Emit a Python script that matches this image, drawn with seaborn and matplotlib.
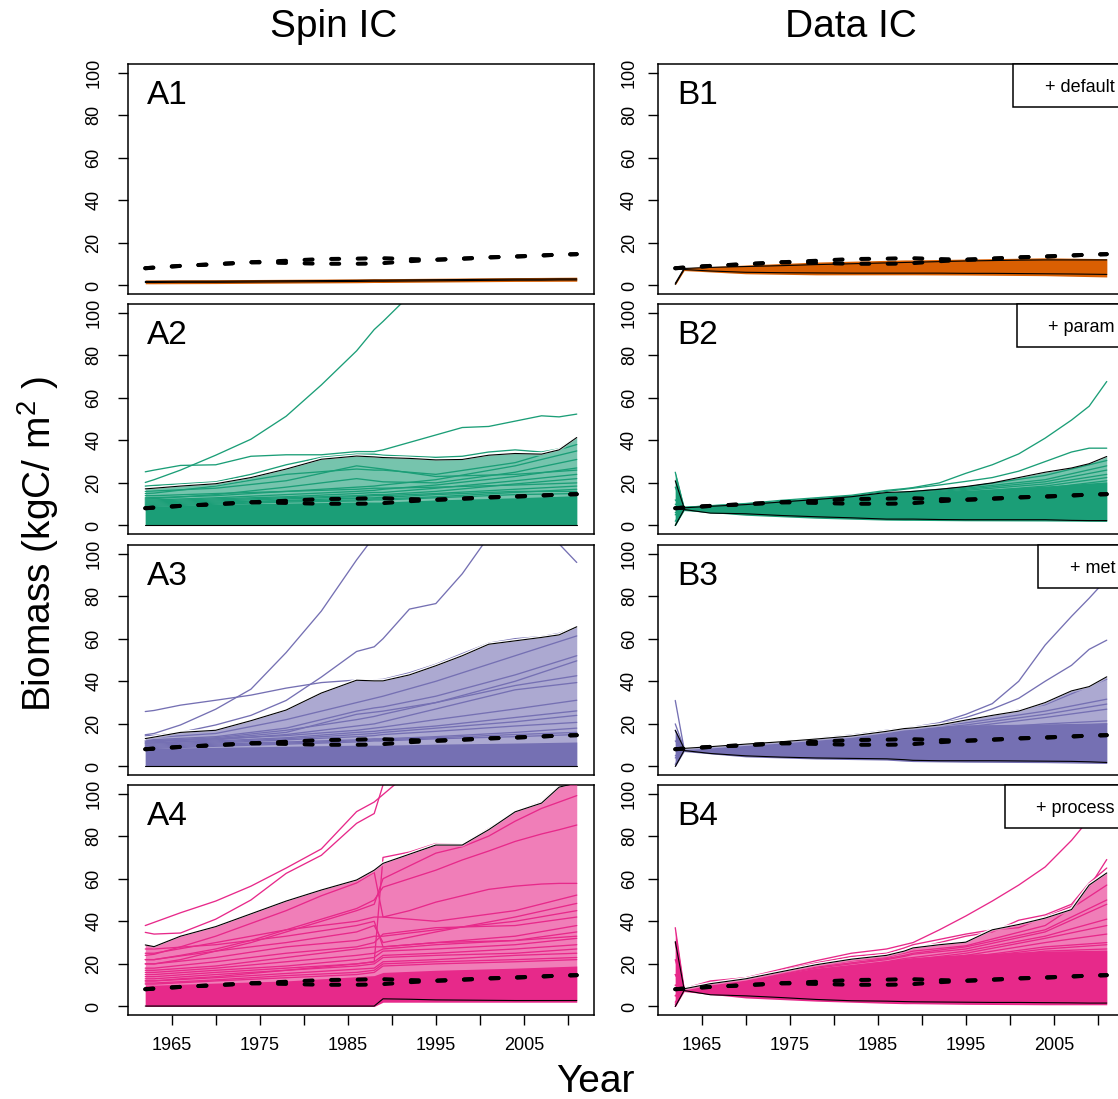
import matplotlib
matplotlib.use("Agg")
import matplotlib.pyplot as plt
import pandas as pd
import seaborn as sns
from matplotlib.patches import Rectangle

sns.set_style("ticks")
plt.rcParams['font.family'] = ['Liberation Sans', 'DejaVu Sans']
plt.rcParams['mathtext.default'] = 'regular'
plt.rcParams['text.color'] = 'black'
plt.rcParams['xtick.color'] = 'black'
plt.rcParams['ytick.color'] = 'black'
plt.rcParams['axes.labelcolor'] = 'black'

# year grids (main lines / dense core + inner members)
YEARS = [1962, 1963, 1966, 1970, 1974, 1978, 1982, 1986, 1988, 1989, 1992, 1995, 1998, 2001, 2004, 2007, 2009, 2011]
YEARS_C = [1962, 1963, 1970, 1978, 1986, 1988, 1989, 1995, 2004, 2011]

# observed biomass (dashed), upper and lower
OBS_HI = [8.1, 8.4, 9.2, 10.0, 10.9, 11.6, 12.4, 12.6, 12.8, 12.8, 12.4, 12.1, 12.6, 13.2, 13.6, 14.1, 14.5, 14.7]
OBS_LO = [8.1, 8.4, 9.2, 10.0, 10.9, 10.6, 10.2, 10.2, 10.3, 10.5, 11.4, 12.1, 12.6, 13.2, 13.6, 14.1, 14.5, 14.7]

# ---- A1 spin IC, default
A1_CI_HI = [1.9, 1.9, 2.0, 2.0, 2.1, 2.2, 2.3, 2.4, 2.5, 2.5, 2.6, 2.7, 2.8, 2.9, 3.0, 3.0, 3.1, 3.1]
A1_CI_LO = [1.4, 1.4, 1.5, 1.5, 1.6, 1.7, 1.8, 1.9, 2.0, 2.0, 2.1, 2.2, 2.3, 2.4, 2.5, 2.5, 2.6, 2.6]
A1_CORE_LO = [0.8, 0.8, 0.9, 1.1, 1.3, 1.4, 1.4, 1.6, 1.9, 2.0]
A1_CORE_HI = [2.6, 2.6, 2.7, 2.9, 3.1, 3.2, 3.2, 3.4, 3.7, 3.9]
A1_OUT = []
A1_INNER = []

# ---- A2 spin IC, + param
A2_CI_HI = [17.2, 17.5, 18.5, 19.6, 22.5, 26.5, 31.1, 32.6, 32.2, 31.9, 31.5, 30.8, 31.0, 33.0, 33.8, 33.5, 35.5, 41.3]
A2_CI_LO = [0.2, 0.2, 0.2, 0.2, 0.2, 0.2, 0.2, 0.2, 0.2, 0.2, 0.2, 0.2, 0.2, 0.2, 0.2, 0.2, 0.2, 0.2]
A2_CORE_LO = [0, 0, 0, 0, 0, 0, 0, 0, 0, 0]
A2_CORE_HI = [9.0, 9.0, 10.0, 10.5, 11.0, 11.0, 11.0, 12.0, 13.0, 14.0]
A2_OUT = [
    [20.2, 21.5, 26.0, 33.0, 40.5, 51.3, 66.0, 82.0, 92.0, 95.8, 108.0, None, None, None, None, None, None, None],
    [25.2, 26.0, 28.2, 28.5, 32.5, 33.2, 33.2, 34.7, 34.7, 35.5, 39.0, 42.5, 46.0, 46.5, 49.0, 51.5, 51.0, 52.3],
    [18.5, 18.8, 19.5, 20.5, 24.0, 28.5, 32.0, 33.5, 33.5, 33.0, 32.5, 32.0, 32.5, 34.5, 35.5, 34.5, 36.0, 41.5],
]
A2_INNER = [
    [15.0, 15.2, 18.5, 24.0, 26.5, 26.0, 26.0, 24.0, 29.5, 38.0],
    [13.0, 13.1, 14.0, 16.0, 18.0, 18.5, 19.0, 21.5, 28.0, 35.0],
    [12.5, 12.6, 14.5, 18.0, 22.0, 21.0, 20.5, 20.0, 25.0, 31.0],
    [12.0, 12.0, 13.0, 14.5, 16.0, 16.5, 17.0, 19.0, 23.0, 27.0],
    [11.5, 11.5, 12.5, 13.5, 15.0, 15.5, 15.5, 17.5, 21.0, 24.0],
    [14.0, 14.0, 15.0, 16.0, 17.0, 17.5, 17.5, 18.0, 19.0, 20.0],
    [11.0, 11.0, 12.0, 13.0, 14.0, 14.5, 14.5, 16.0, 19.5, 22.0],
    [10.5, 10.5, 11.5, 12.5, 13.5, 14.0, 14.0, 15.0, 17.0, 18.5],
    [16.0, 16.2, 17.5, 21.0, 28.0, 27.0, 26.5, 23.0, 24.0, 26.0],
    [9.5, 9.5, 10.5, 11.5, 12.0, 12.5, 12.5, 13.5, 15.5, 17.0],
    [10.0, 10.0, 11.0, 11.8, 12.8, 13.0, 13.2, 14.5, 16.0, 16.0],
    [9.0, 9.0, 10.0, 11.0, 11.5, 12.0, 12.0, 13.0, 14.5, 15.0],
]

# ---- A3 spin IC, + met
A3_CI_HI = [13.1, 13.8, 16.0, 17.0, 21.5, 26.5, 34.5, 40.5, 40.2, 40.2, 43.0, 47.3, 52.0, 57.4, 59.0, 60.6, 61.8, 65.6]
A3_CI_LO = [0.2, 0.2, 0.2, 0.2, 0.2, 0.2, 0.2, 0.2, 0.2, 0.2, 0.2, 0.2, 0.2, 0.2, 0.2, 0.2, 0.2, 0.2]
A3_CORE_LO = [0, 0, 0, 0, 0, 0, 0, 0, 0, 0]
A3_CORE_HI = [8.5, 8.5, 9.0, 9.5, 10.0, 10.0, 10.0, 10.5, 11.0, 11.5]
A3_OUT = [
    [14.9, 15.5, 19.5, 26.9, 36.3, 53.5, 73.0, 97.0, 108.0, None, None, None, None, None, None, None, None, None],
    [14.4, 14.6, 16.0, 19.5, 24.0, 31.0, 42.0, 54.0, 56.2, 60.0, 73.9, 76.5, 90.5, 108.0, None, None, None, None],
    [None, None, None, None, None, None, None, None, None, None, None, None, None, None, None, None, 104.5, 95.8],
    [25.8, 26.3, 28.8, 31.1, 33.5, 36.8, 39.4, 40.6, 40.7, 40.9, 44.0, 48.0, 53.0, 57.9, 60.0, 61.0, 62.5, 65.6],
]
A3_INNER = [
    [13.5, 13.6, 15.5, 22.0, 30.0, 32.0, 33.0, 40.0, 52.0, 61.3],
    [12.5, 12.6, 14.0, 18.0, 26.0, 27.5, 28.0, 33.0, 43.0, 52.0],
    [12.0, 12.1, 13.5, 17.0, 22.0, 23.5, 24.5, 30.0, 40.0, 49.6],
    [11.5, 11.6, 13.0, 16.0, 24.5, 25.5, 26.0, 30.0, 38.0, 42.6],
    [11.0, 11.1, 12.5, 15.0, 19.0, 20.0, 21.0, 27.0, 36.0, 39.4],
    [12.0, 12.1, 13.0, 14.5, 17.0, 18.0, 18.5, 22.0, 27.0, 31.1],
    [11.0, 11.0, 12.0, 13.5, 16.0, 16.5, 17.0, 19.0, 23.0, 26.1],
    [10.5, 10.5, 11.5, 13.0, 15.0, 15.5, 16.0, 18.0, 21.0, 24.0],
    [10.0, 10.0, 11.0, 12.5, 14.0, 14.5, 15.0, 16.5, 19.0, 20.7],
    [9.5, 9.5, 10.5, 11.5, 12.5, 13.0, 13.0, 14.0, 16.0, 18.0],
    [9.0, 9.0, 10.0, 11.0, 12.0, 12.5, 12.5, 13.5, 15.0, 16.0],
    [8.5, 8.5, 9.5, 10.5, 11.5, 12.0, 12.0, 13.0, 14.0, 15.0],
]

# ---- A4 spin IC, + process
A4_CI_HI = [28.9, 28.1, 33.0, 37.5, 43.5, 49.5, 54.7, 59.4, 64.0, 67.2, 71.5, 75.8, 75.8, 83.0, 91.4, 95.5, 103.0, 105.0]
A4_CI_LO = [0.2, 0.2, 0.2, 0.2, 0.2, 0.2, 0.2, 0.2, 0.2, 3.6, 3.4, 3.1, 3.0, 2.9, 2.8, 2.8, 2.8, 2.8]
A4_CORE_LO = [0, 0, 0, 0, 0, 0, 2.0, 2.0, 2.0, 2.0]
A4_CORE_HI = [10.0, 10.0, 11.0, 12.0, 14.0, 14.5, 16.0, 17.0, 18.0, 19.0]
A4_OUT = [
    [38.0, 39.5, 44.0, 49.5, 56.5, 65.0, 74.0, 91.5, 96.0, 99.5, 110.0, None, None, None, None, None, None, None],
    [34.8, 34.0, 34.5, 41.0, 50.0, 62.5, 71.0, 86.0, 90.6, 104.0, None, None, None, None, None, None, None, None],
    [12.0, 12.0, 13.0, 14.0, 15.5, 17.0, 18.5, 20.0, 21.0, 70.0, 72.5, 76.5, 76.0, 83.5, 91.5, 96.0, 103.5, 106.0],
    [24.0, 24.5, 28.0, 33.0, 39.0, 45.0, 52.0, 58.0, 63.0, 42.0, 45.0, 49.0, 52.0, 55.0, 56.5, 57.5, 57.8, 57.8],
    [22.0, 22.0, 24.0, 27.0, 31.0, 36.0, 41.0, 46.0, 50.0, 56.0, 60.0, 64.0, 68.8, 73.0, 77.5, 81.0, 83.0, 85.2],
    [20.0, 20.0, 22.0, 26.0, 30.0, 35.0, 40.0, 45.0, 48.0, 60.0, 66.0, 72.0, 75.0, 80.0, 87.0, 93.0, 96.0, 99.0],
]
A4_INNER = [
    [25.0, 25.0, 30.0, 36.0, 40.0, 42.0, 42.0, 40.0, 45.0, 52.3],
    [22.0, 22.0, 26.0, 30.0, 35.0, 38.0, 30.0, 35.0, 42.0, 48.4],
    [20.0, 20.0, 23.0, 28.0, 31.0, 33.0, 33.0, 36.0, 40.0, 45.0],
    [18.0, 18.0, 21.0, 25.0, 28.0, 30.0, 34.0, 37.0, 38.0, 42.0],
    [17.0, 17.0, 19.0, 23.0, 27.0, 28.0, 28.0, 30.0, 33.0, 38.0],
    [16.0, 16.0, 18.0, 21.0, 24.0, 25.0, 27.0, 29.0, 31.0, 35.0],
    [15.0, 15.0, 17.0, 19.0, 22.0, 23.0, 26.0, 27.0, 29.0, 32.0],
    [14.0, 14.0, 16.0, 18.0, 20.0, 21.0, 24.0, 25.0, 27.0, 29.0],
    [13.0, 13.0, 15.0, 17.0, 19.0, 20.0, 23.0, 24.0, 25.0, 27.0],
    [27.0, 27.0, 29.0, 33.0, 38.0, 40.0, 28.0, 30.0, 31.0, 33.0],
    [12.0, 12.0, 13.5, 15.5, 17.5, 18.0, 21.0, 22.0, 24.0, 25.0],
    [11.0, 11.0, 12.5, 14.5, 16.0, 17.0, 20.0, 21.0, 22.0, 23.0],
    [10.5, 10.5, 12.0, 13.5, 15.0, 16.0, 19.0, 20.0, 21.0, 22.0],
]

# ---- B1 data IC, default
B1_CI_HI = [1.0, 8.0, 8.5, 8.9, 9.3, 9.8, 10.2, 10.6, 10.8, 10.9, 11.2, 11.5, 11.7, 11.9, 12.0, 12.0, 12.0, 12.0]
B1_CI_LO = [0.5, 7.5, 6.8, 6.2, 6.0, 5.9, 5.8, 5.8, 5.8, 5.8, 5.8, 5.7, 5.7, 5.6, 5.5, 5.4, 5.3, 5.2]
B1_CORE_LO = [0.3, 7.0, 5.5, 5.0, 5.0, 5.0, 5.0, 4.9, 4.6, 4.0]
B1_CORE_HI = [1.5, 8.3, 9.6, 11.0, 11.8, 12.0, 12.0, 12.4, 13.0, 12.6]
B1_OUT = []
B1_INNER = []

# ---- B2 data IC, + param
B2_CI_HI = [21.0, 8.3, 9.0, 9.8, 11.0, 12.2, 13.5, 15.5, 15.8, 16.0, 17.0, 18.3, 20.0, 22.5, 25.0, 27.0, 29.0, 32.4]
B2_CI_LO = [0.0, 7.5, 5.8, 5.5, 4.7, 4.1, 3.6, 3.0, 3.0, 3.0, 2.8, 2.7, 2.7, 2.7, 2.7, 2.4, 2.3, 2.3]
B2_CORE_LO = [0.0, 7.0, 4.8, 3.4, 2.5, 2.4, 2.4, 2.2, 2.1, 1.9]
B2_CORE_HI = [25.0, 8.8, 9.8, 12.2, 15.4, 15.6, 15.7, 16.5, 18.5, 20.5]
B2_OUT = [
    [12.0, 8.5, 9.3, 10.3, 11.8, 13.0, 14.2, 16.5, 17.3, 17.8, 20.0, 24.5, 28.5, 33.6, 41.0, 49.5, 56.0, 67.6],
    [6.0, 8.5, 9.2, 10.0, 11.2, 12.5, 13.8, 16.0, 17.0, 17.5, 19.0, 20.7, 22.5, 25.5, 30.0, 34.5, 36.3, 36.3],
]
B2_INNER = [
    [25.0, 8.3, 9.8, 12.3, 15.0, 15.6, 16.0, 18.0, 23.5, 30.5],
    [18.0, 8.2, 9.6, 12.0, 14.5, 15.2, 15.5, 17.5, 21.5, 28.0],
    [10.0, 8.0, 9.4, 11.5, 14.0, 14.8, 15.0, 17.0, 20.5, 26.0],
    [5.0, 8.0, 9.2, 11.2, 13.5, 14.2, 14.5, 16.5, 19.5, 24.0],
    [2.0, 7.8, 9.0, 11.0, 13.0, 13.6, 14.0, 15.5, 18.5, 22.5],
    [0.0, 7.6, 8.8, 10.8, 12.5, 13.0, 13.3, 15.0, 17.5, 21.0],
]

# ---- B3 data IC, + met
B3_CI_HI = [17.0, 8.5, 9.3, 10.5, 11.6, 12.9, 14.3, 16.5, 17.8, 18.1, 19.5, 21.8, 24.0, 26.0, 30.0, 35.5, 37.5, 42.1]
B3_CI_LO = [0.0, 7.5, 6.1, 5.0, 4.4, 4.0, 3.8, 3.6, 3.2, 2.9, 2.7, 2.7, 2.7, 2.6, 2.5, 2.4, 2.2, 1.9]
B3_CORE_LO = [0.0, 7.0, 4.5, 3.5, 3.0, 2.5, 2.3, 2.0, 1.8, 1.4]
B3_CORE_HI = [17.0, 8.5, 10.4, 12.8, 16.4, 17.6, 17.9, 19.5, 20.0, 20.5]
B3_OUT = [
    [5.0, 8.6, 9.5, 10.7, 11.8, 13.2, 14.8, 17.0, 18.0, 18.5, 20.5, 24.5, 29.5, 40.0, 57.0, 70.5, 79.0, 88.0],
    [20.0, 8.5, 9.4, 10.6, 11.7, 13.0, 14.5, 16.8, 17.9, 18.3, 20.0, 23.0, 27.0, 32.0, 40.0, 47.5, 55.0, 59.3],
]
B3_INNER = [
    [31.0, 8.4, 10.4, 12.8, 16.5, 17.6, 18.0, 21.5, 29.0, 41.0],
    [17.0, 8.2, 10.2, 12.5, 16.0, 17.0, 17.5, 20.5, 26.0, 31.6],
    [12.0, 8.1, 10.0, 12.2, 15.5, 16.5, 17.0, 19.5, 24.5, 29.3],
    [8.0, 8.0, 9.8, 12.0, 15.0, 16.0, 16.3, 18.5, 23.0, 26.9],
    [4.0, 7.8, 9.6, 11.7, 14.5, 15.3, 15.6, 17.5, 20.0, 21.4],
    [1.0, 7.7, 9.4, 11.5, 14.0, 14.5, 14.8, 16.5, 18.5, 20.0],
]

# ---- B4 data IC, + process
B4_CI_HI = [30.5, 8.3, 10.7, 13.0, 16.3, 19.6, 22.2, 24.0, 26.0, 27.5, 29.0, 30.2, 36.0, 38.5, 41.5, 45.5, 57.0, 62.7]
B4_CI_LO = [0.0, 7.5, 5.5, 5.0, 4.2, 3.3, 2.7, 2.5, 2.3, 2.2, 2.1, 2.0, 1.9, 1.9, 1.8, 1.7, 1.6, 1.6]
B4_CORE_LO = [0.0, 7.0, 4.0, 2.5, 1.5, 1.3, 1.3, 1.0, 0.8, 0.8]
B4_CORE_HI = [36.0, 8.3, 12.5, 18.0, 21.5, 22.5, 23.0, 24.5, 26.0, 26.5]
B4_OUT = [
    [10.0, 8.5, 11.5, 13.5, 17.5, 21.5, 25.0, 27.0, 29.0, 30.0, 36.0, 42.5, 49.5, 57.0, 65.5, 78.0, 88.0, 97.0],
    [5.0, 8.4, 12.0, 13.5, 16.8, 20.5, 23.5, 25.0, 27.5, 29.0, 31.5, 34.0, 36.0, 37.0, 42.0, 47.0, 56.0, 69.0],
    [15.0, 8.3, 10.5, 12.8, 16.0, 19.0, 21.5, 23.0, 25.5, 27.0, 30.0, 33.0, 35.0, 40.5, 43.0, 48.0, 58.0, 65.0],
]
B4_INNER = [
    [37.0, 8.5, 13.0, 19.5, 23.5, 25.0, 26.0, 28.5, 38.0, 57.0],
    [30.0, 8.4, 12.5, 18.5, 22.5, 24.0, 25.0, 28.0, 36.0, 50.0],
    [22.0, 8.3, 12.0, 18.0, 22.0, 23.5, 24.5, 27.0, 35.0, 48.0],
    [15.0, 8.2, 11.5, 17.0, 21.0, 22.5, 23.0, 26.0, 33.0, 41.0],
    [10.0, 8.1, 11.0, 16.0, 20.0, 21.0, 22.0, 25.0, 32.0, 38.0],
    [5.0, 8.0, 10.5, 15.0, 19.0, 20.0, 21.0, 24.0, 30.0, 34.0],
    [2.0, 7.9, 10.0, 14.5, 18.0, 19.0, 20.0, 23.0, 28.0, 30.0],
    [0.0, 7.8, 9.5, 14.0, 17.0, 18.0, 19.0, 22.0, 26.0, 27.0],
    [1.0, 7.8, 9.8, 14.0, 17.5, 18.5, 19.5, 22.5, 27.0, 29.0],
]

PANEL_NAMES = ["A1", "A2", "A3", "A4", "B1", "B2", "B3", "B4"]
LEGEND_TEXT = ["+ default", "+ param", "+ met", "+ process"]
COL_TITLES = ["Spin IC", "Data IC"]

dark2 = sns.color_palette("Dark2")
ROW_COLORS = [dark2[1], dark2[0], dark2[2], dark2[3]]

panels = {
    "A1": (A1_CI_LO, A1_CI_HI, A1_CORE_LO, A1_CORE_HI, A1_OUT, A1_INNER),
    "A2": (A2_CI_LO, A2_CI_HI, A2_CORE_LO, A2_CORE_HI, A2_OUT, A2_INNER),
    "A3": (A3_CI_LO, A3_CI_HI, A3_CORE_LO, A3_CORE_HI, A3_OUT, A3_INNER),
    "A4": (A4_CI_LO, A4_CI_HI, A4_CORE_LO, A4_CORE_HI, A4_OUT, A4_INNER),
    "B1": (B1_CI_LO, B1_CI_HI, B1_CORE_LO, B1_CORE_HI, B1_OUT, B1_INNER),
    "B2": (B2_CI_LO, B2_CI_HI, B2_CORE_LO, B2_CORE_HI, B2_OUT, B2_INNER),
    "B3": (B3_CI_LO, B3_CI_HI, B3_CORE_LO, B3_CORE_HI, B3_OUT, B3_INNER),
    "B4": (B4_CI_LO, B4_CI_HI, B4_CORE_LO, B4_CORE_HI, B4_OUT, B4_INNER),
}
# white halo above the upper CI line (start index, None = no halo)
halo = {"A1": None, "A2": 0, "A3": 0, "A4": 0, "B1": None, "B2": None, "B3": 1, "B4": 1}


def members_frame(years, lines):
    rows = []
    for i, vals in enumerate(lines):
        for yr, v in zip(years, vals):
            rows.append((i, yr, v))
    return pd.DataFrame(rows, columns=["member", "year", "biomass"]).dropna()


W, H = 1118, 1099
fig = plt.figure(figsize=(W / 100, H / 100), dpi=100)

box_tops = [64, 304, 545, 785]
box_h = 230
box_w = 466
col_left = [128, 658]

axes = {}
for c in range(2):
    for r in range(4):
        name = PANEL_NAMES[c * 4 + r]
        ax = fig.add_axes([col_left[c] / W, (H - box_tops[r] - box_h) / H, box_w / W, box_h / H])
        axes[name] = ax
        col = ROW_COLORS[r]
        ci_lo, ci_hi, core_lo, core_hi, out, inner = panels[name]

        ax.fill_between(YEARS_C, core_lo, core_hi, color=col, lw=0, zorder=1)
        for lines, yrs in ((inner, YEARS_C), (out, YEARS)):
            if lines:
                df = members_frame(yrs, lines)
                sns.lineplot(data=df, x="year", y="biomass", units="member", estimator=None,
                             color=col, linewidth=0.95, ax=ax, legend=False, zorder=2)
        if halo[name] is not None:
            s = halo[name]
            ax.plot(YEARS[s:], ci_hi[s:], color="white", lw=2.6, zorder=2.5, solid_capstyle="round")
        ax.fill_between(YEARS, ci_lo, ci_hi, color=col, alpha=0.6, lw=0, zorder=3)
        ax.plot(YEARS, ci_hi, color="black", lw=0.8, zorder=4)
        ax.plot(YEARS, ci_lo, color="black", lw=0.8, zorder=4)
        for obs in (OBS_LO, OBS_HI):
            ax.plot(YEARS, obs, color="black", lw=2.9, zorder=4.5,
                    dashes=(2.0, 4.6), dash_capstyle="round")

        ax.set_xlim(1960.04, 2012.96)
        ax.set_ylim(-4, 104)
        ax.set_xlabel("")
        ax.set_ylabel("")
        for sp in ax.spines.values():
            sp.set_visible(True)
            sp.set_linewidth(1.1)
            sp.set_color("black")
        ax.set_yticks([0, 20, 40, 60, 80, 100])
        ax.tick_params(axis="y", direction="out", length=7.5, width=1.0, labelsize=13,
                       pad=(11 if c == 0 else 7), colors="black")
        plt.setp(ax.get_yticklabels(), rotation=90, va="center")
        if r == 3:
            ticks = list(range(1965, 2011, 5))
            ax.set_xticks(ticks)
            ax.set_xticklabels([str(t) if (t - 1965) % 10 == 0 else "" for t in ticks])
            ax.tick_params(axis="x", direction="out", length=7.5, width=1.0, labelsize=13,
                           pad=8.5, colors="black")
        else:
            ax.set_xticks([])
        ax.text(0.041, 1 - 40 / box_h, name, transform=ax.transAxes, fontsize=24,
                va="baseline", ha="left", zorder=7, color="black")

# legend boxes in the right column
legend_texts = []
for r in range(4):
    ax = axes[PANEL_NAMES[4 + r]]
    t = ax.text(1 - 9 / box_w, 1 - 28 / box_h, LEGEND_TEXT[r], transform=ax.transAxes,
                ha="right", va="baseline", fontsize=13, zorder=8, clip_on=False, color="black")
    legend_texts.append((ax, t))

fig.canvas.draw()
for ax, t in legend_texts:
    bb = t.get_window_extent()
    inv = ax.transAxes.inverted()
    x0 = inv.transform((bb.x0 - 32, 0))[0]
    y0 = 1 - 43 / box_h
    ax.add_patch(Rectangle((x0, y0), 1 - x0, 1 - y0, transform=ax.transAxes,
                           facecolor="white", edgecolor="black", lw=1.1, zorder=7, clip_on=False))

fig.text(334 / W, 1 - 37 / H, COL_TITLES[0], ha="center", va="baseline", fontsize=28)
fig.text(851 / W, 1 - 37 / H, COL_TITLES[1], ha="center", va="baseline", fontsize=28)
fig.text(595 / W, 1 - 1092 / H, "Year", ha="center", va="baseline", fontsize=28)
fig.text(38 / W, 1 - 544 / H, "Biomass (kgC/ m$^2$ )", rotation=90, ha="center", va="center",
         fontsize=28)

fig.savefig("out.png", dpi=100)
